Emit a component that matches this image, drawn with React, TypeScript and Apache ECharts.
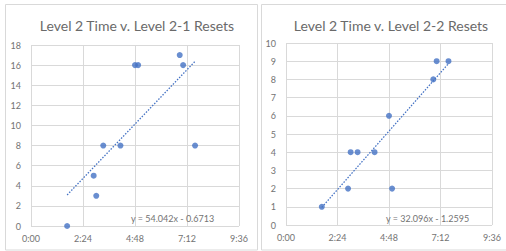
import React, { useEffect, useRef } from "react";
import * as echarts from "echarts";

// Level 2 time (fraction of a day)
const times = [0.0695, 0.1205, 0.1255, 0.139, 0.172, 0.2, 0.206, 0.286, 0.2925, 0.3155];
const resets21 = [0, 5, 3, 8, 8, 16, 16, 17, 16, 8];
const resets22 = [1, 2, 4, 4, 4, 6, 2, 8, 9, 9];
const titles = ["Level 2 Time v. Level 2-1 Resets", "Level 2 Time v. Level 2-2 Resets"];
const trend21 = { slope: 54.042, intercept: -0.6713, label: "y = 54.042x - 0.6713" };
const trend22 = { slope: 32.096, intercept: -1.2595, label: "y = 32.096x - 1.2595" };
const xTicks = [0, 0.1, 0.2, 0.3, 0.4];

const BLUE = "#4472C4";
const GRID = "#d9d9d9";
const TITLE = "#6a6a6a";
const TEXT = "#737373";
const FONT = "Lato, 'Liberation Sans', sans-serif";

function fmtTime(v: number): string {
  const totalMin = Math.round(v * 24 * 60);
  const h = Math.floor(totalMin / 60);
  const m = totalMin % 60;
  return `${h}:${m < 10 ? "0" + m : m}`;
}

function trendData(t: { slope: number; intercept: number }) {
  const lo = Math.min(...times);
  const hi = Math.max(...times);
  return [
    [lo, t.slope * lo + t.intercept],
    [hi, t.slope * hi + t.intercept],
  ];
}

export default function App() {
  const ref = useRef<HTMLDivElement>(null);
  useEffect(() => {
    if (!ref.current) return;
    const chart = echarts.init(ref.current, undefined, { renderer: "svg" });
    const xAxisBase = (gridIndex: number) => ({
      type: "value" as const,
      gridIndex,
      min: xTicks[0],
      max: xTicks[xTicks.length - 1],
      interval: 0.1,
      axisLine: { show: false },
      axisTick: { show: false },
      splitLine: { show: true, lineStyle: { color: GRID, width: 1 } },
      axisLabel: {
        color: TEXT,
        fontSize: 9,
        fontFamily: FONT,
        margin: 8,
        formatter: (v: number) => fmtTime(v),
      },
    });
    const yAxisBase = (gridIndex: number, max: number, interval: number) => ({
      type: "value" as const,
      gridIndex,
      min: 0,
      max,
      interval,
      axisLine: { show: false },
      axisTick: { show: false },
      splitLine: { show: true, lineStyle: { color: GRID, width: 1 } },
      axisLabel: { color: TEXT, fontSize: 9, fontFamily: FONT, margin: 10 },
    });
    chart.setOption({
      animation: false,
      backgroundColor: "#ffffff",
      title: [
        {
          text: titles[0],
          left: 132,
          top: 13,
          textAlign: "center",
          textStyle: { color: TITLE, fontSize: 14, fontWeight: "normal", fontFamily: FONT },
        },
        {
          text: titles[1],
          left: 386,
          top: 13,
          textAlign: "center",
          textStyle: { color: TITLE, fontSize: 14, fontWeight: "normal", fontFamily: FONT },
        },
      ],
      grid: [
        { left: 31, right: 267, top: 45, bottom: 25 },
        { left: 286, right: 14, top: 43, bottom: 26 },
      ],
      xAxis: [xAxisBase(0), xAxisBase(1)],
      yAxis: [yAxisBase(0, 18, 2), yAxisBase(1, 10, 1)],
      series: [
        {
          type: "line",
          xAxisIndex: 0,
          yAxisIndex: 0,
          data: trendData(trend21),
          symbol: "none",
          lineStyle: { color: BLUE, width: 1.3, type: [1.5, 1.5] },
          z: 2,
        },
        {
          type: "scatter",
          xAxisIndex: 0,
          yAxisIndex: 0,
          data: times.map((t, i) => [t, resets21[i]]),
          symbolSize: 6,
          itemStyle: { color: BLUE },
          z: 3,
        },
        {
          type: "line",
          xAxisIndex: 1,
          yAxisIndex: 1,
          data: trendData(trend22),
          symbol: "none",
          lineStyle: { color: BLUE, width: 1.3, type: [1.5, 1.5] },
          z: 2,
        },
        {
          type: "scatter",
          xAxisIndex: 1,
          yAxisIndex: 1,
          data: times.map((t, i) => [t, resets22[i]]),
          symbolSize: 6,
          itemStyle: { color: BLUE },
          z: 3,
        },
      ],
      graphic: [
        {
          type: "rect",
          shape: { x: 5.5, y: 4.5, width: 252, height: 245.5 },
          style: { fill: "none", stroke: GRID, lineWidth: 1 },
          silent: true,
          z: 0,
        },
        {
          type: "rect",
          shape: { x: 261.5, y: 4.5, width: 260, height: 245.5 },
          style: { fill: "none", stroke: GRID, lineWidth: 1 },
          silent: true,
          z: 0,
        },
        {
          type: "text",
          x: 131,
          y: 214,
          style: { text: trend21.label, fill: TEXT, fontSize: 9, fontFamily: FONT },
          z: 10,
        },
        {
          type: "text",
          x: 386,
          y: 214,
          style: { text: trend22.label, fill: TEXT, fontSize: 9, fontFamily: FONT },
          z: 10,
        },
      ],
    });
    return () => chart.dispose();
  }, []);
  return (
    <div
      ref={ref}
      style={{ position: "fixed", left: 0, top: 0, width: 506, height: 251 }}
    />
  );
}
